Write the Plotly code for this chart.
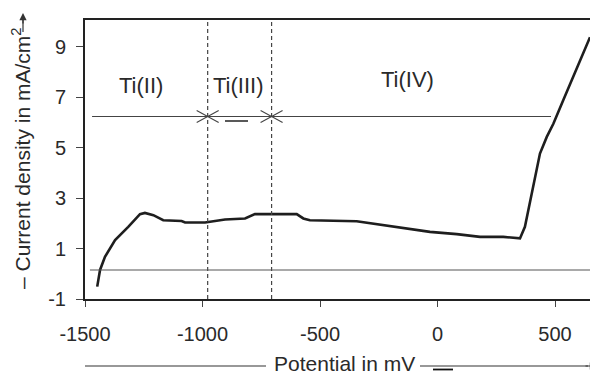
import plotly.graph_objects as go

# Data
potential_mv = [-1448, -1436, -1415, -1372, -1316, -1266, -1245, -1209, -1167, -1089,
                -1074, -989, -904, -819, -777, -649, -599, -571, -543, -344,
                -245, -131, -32, 82, 181, 280, 351, 372, 408, 436,
                465, 493, 535, 578, 620, 649]
current_density = [-0.51, 0.15, 0.67, 1.33, 1.86, 2.36, 2.41, 2.32, 2.12, 2.09,
                   2.03, 2.03, 2.15, 2.19, 2.36, 2.36, 2.36, 2.19, 2.12, 2.08,
                   1.95, 1.79, 1.66, 1.57, 1.46, 1.46, 1.40, 1.86, 3.44, 4.76,
                   5.42, 5.94, 6.87, 7.79, 8.71, 9.37]

x_tick_vals = [-1500, -1000, -500, 0, 500]
x_tick_text = ["-1500", "-1000", "-500", "0", "500"]
y_tick_vals = [-1, 1, 3, 5, 7, 9]
y_tick_text = ["-1", "1", "3", "5", "7", "9"]

region_bounds = [-978, -706]          # dashed vertical lines
region_labels = ["Ti(II)", "Ti(III)", "Ti(IV)"]
region_label_x = [-1262, -845, -126]
region_label_y = [7.45, 7.45, 7.68]
upper_level = 6.23
upper_level_span = [-1470, 483]
baseline_level = 0.15
baseline_span = [-1479, 683]

X_RANGE = [-1500, 683]
Y_RANGE = [-1, 10.05]

FONT = "Liberation Sans, Arial, sans-serif"
INK = "#2a2a2a"

# page body has an 8px margin; plot area spans page x 85..598, y 20..299
PW, PH = 513, 279


def px_x(px):
    return (px - 85) / PW


def px_y(py):
    return (299 - py) / PH


fig = go.Figure()
fig.add_trace(go.Scatter(x=potential_mv, y=current_density, mode="lines",
                         line=dict(color="#1e1e1e", width=2.6, shape="linear"),
                         hoverinfo="skip", showlegend=False))

shapes = []
# dashed verticals
for xb in region_bounds:
    shapes.append(dict(type="line", xref="x", yref="paper", x0=xb, x1=xb, y0=0, y1=1,
                       line=dict(color="#444", width=1.2, dash="4px,3px")))
# horizontal reference lines
shapes.append(dict(type="line", xref="x", yref="y", x0=upper_level_span[0], x1=upper_level_span[1],
                   y0=upper_level, y1=upper_level, line=dict(color="#444", width=1.1)))
shapes.append(dict(type="line", xref="x", yref="y", x0=baseline_span[0], x1=baseline_span[1],
                   y0=baseline_level, y1=baseline_level, line=dict(color="#555", width=1.1)))
# cross marks at intersections (pixel-sized)
for xb in region_bounds:
    for sgn in (1, -1):
        shapes.append(dict(type="line", xref="x", yref="y", xsizemode="pixel", ysizemode="pixel",
                           xanchor=xb, yanchor=upper_level,
                           x0=-11, x1=11, y0=-6 * sgn, y1=6 * sgn,
                           line=dict(color="#444", width=1.1)))
# small dash between the crosses
shapes.append(dict(type="line", xref="paper", yref="paper", x0=px_x(225), x1=px_x(248),
                   y0=px_y(121), y1=px_y(121), line=dict(color="#222", width=1.5)))
# x axis title arrow lines
shapes.append(dict(type="line", xref="paper", yref="paper", x0=0, x1=px_x(266),
                   y0=px_y(366), y1=px_y(366), line=dict(color="#333", width=1.2)))
shapes.append(dict(type="line", xref="paper", yref="paper", x0=px_x(420), x1=px_x(588),
                   y0=px_y(366), y1=px_y(366), line=dict(color="#333", width=1.2)))
shapes.append(dict(type="line", xref="paper", yref="paper", x0=px_x(433), x1=px_x(453),
                   y0=px_y(369.5), y1=px_y(369.5), line=dict(color="#111", width=1.8)))
# y axis title arrow shaft
shapes.append(dict(type="line", xref="paper", yref="paper", x0=px_x(23), x1=px_x(23),
                   y0=px_y(32), y1=px_y(20), line=dict(color="#333", width=1.2)))

annotations = []
for lbl, lx, ly in zip(region_labels, region_label_x, region_label_y):
    annotations.append(dict(x=lx, y=ly, xref="x", yref="y", text=lbl, showarrow=False,
                            xanchor="center", yanchor="middle",
                            font=dict(family=FONT, size=22, color=INK)))
annotations.append(dict(x=px_x(344), y=px_y(377), xref="paper", yref="paper",
                        text="Potential in mV", showarrow=False, xanchor="center", yanchor="bottom",
                        font=dict(family=FONT, size=21, color=INK)))
# x arrow head
annotations.append(dict(x=1, y=px_y(366), ax=-14, ay=0, xref="paper", yref="paper",
                        text="", showarrow=True, arrowhead=2, arrowsize=1.2, arrowwidth=1.2,
                        arrowcolor="#333", standoff=0))
# y axis title
annotations.append(dict(x=px_x(21), y=px_y(159), xref="paper", yref="paper",
                        text="\u2013 Current density in mA/cm<sup>2</sup>", textangle=-90,
                        xanchor="center", yanchor="middle",
                        showarrow=False, font=dict(family=FONT, size=21, color=INK)))
annotations.append(dict(x=px_x(23), y=px_y(13), ax=0, ay=12, xref="paper", yref="paper",
                        text="", showarrow=True, arrowhead=2, arrowsize=1.2, arrowwidth=1.2,
                        arrowcolor="#333", standoff=0))

fig.update_layout(
    width=590, height=369,
    margin=dict(l=77, r=0, t=12, b=78, autoexpand=False),
    paper_bgcolor="white", plot_bgcolor="white",
    shapes=shapes, annotations=annotations,
    font=dict(family=FONT, size=20, color=INK),
    showlegend=False,
)
fig.update_xaxes(range=X_RANGE, tickvals=x_tick_vals, ticktext=x_tick_text, automargin=False,
                 showgrid=False, zeroline=False, showline=True, linecolor="#222", linewidth=2.2,
                 mirror=True, ticks="outside", ticklen=6, tickwidth=1.2, tickcolor="#444",
                 ticklabelstandoff=10, tickfont=dict(family=FONT, size=20, color=INK))
fig.update_yaxes(range=Y_RANGE, tickvals=y_tick_vals, ticktext=y_tick_text, automargin=False,
                 showgrid=False, zeroline=False, showline=True, linecolor="#222", linewidth=2,
                 mirror=False, ticks="outside", ticklen=7, tickwidth=1.2, tickcolor="#444",
                 ticklabelstandoff=6, tickfont=dict(family=FONT, size=20, color=INK))

fig.write_html("out.html")
